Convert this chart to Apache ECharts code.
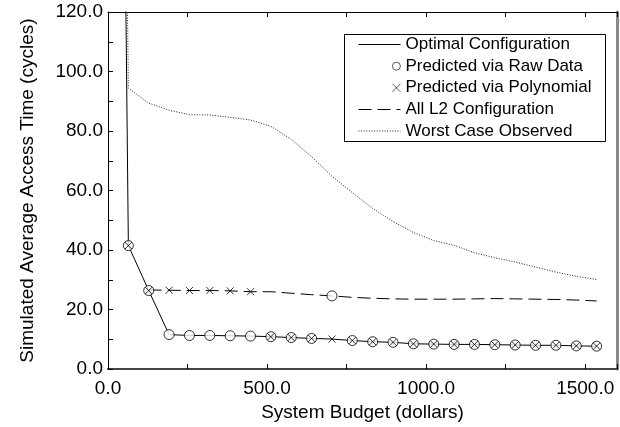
<!DOCTYPE html>
<html>
<head>
<meta charset="utf-8">
<script src="https://cdn.jsdelivr.net/npm/echarts@6/dist/echarts.min.js"></script>
<style>
html,body{margin:0;padding:0;background:#fff;}
#chart{width:620px;height:427px;}
</style>
</head>
<body>
<div id="chart"></div>
<script>
// System budget (dollars)
const budgets = [0, 64, 128, 192, 256, 320, 384, 448, 512, 576, 640, 704, 768, 832, 896, 960, 1024, 1088, 1152, 1216, 1280, 1344, 1408, 1472, 1536];
// Simulated average access time (cycles)
const optimal = [700, 41.5, 26.4, 11.6, 11.3, 11.3, 11.2, 11.1, 10.9, 10.6, 10.3, 10.1, 9.6, 9.2, 9.0, 8.5, 8.4, 8.3, 8.3, 8.2, 8.1, 8.0, 8.0, 7.8, 7.7];
const rawPredicted = [null, 41.5, 26.4, 11.6, 11.3, 11.3, 11.2, 11.1, 10.9, 10.6, 10.3, 24.6, 9.6, 9.2, 9.0, 8.5, 8.4, 8.3, 8.3, 8.2, 8.1, 8.0, 8.0, 7.8, 7.7];
const polyPredicted = [null, 41.5, 26.4, 26.5, 26.4, 26.4, 26.3, 26.0, 10.9, 10.6, 10.3, 10.1, 9.6, 9.2, 9.0, 8.5, 8.4, 8.3, 8.3, 8.2, 8.1, 8.0, 8.0, 7.8, 7.7];
const allL2 = [null, null, 26.6, 26.5, 26.4, 26.4, 26.3, 26.0, 26.0, 25.5, 25.0, 24.6, 24.1, 23.8, 23.6, 23.5, 23.5, 23.5, 23.6, 23.7, 23.6, 23.5, 23.4, 23.2, 22.9];
const worstCase = [700, 94.4, 89.4, 87.0, 85.5, 85.4, 84.6, 83.7, 81.6, 77.2, 71.4, 64.8, 59.3, 54.0, 49.6, 45.9, 43.2, 41.6, 39.1, 37.4, 36.0, 34.3, 32.6, 31.2, 30.1];

const seriesNames = ['Optimal Configuration', 'Predicted via Raw Data', 'Predicted via Polynomial', 'All L2 Configuration', 'Worst Case Observed'];
const xTitle = 'System Budget (dollars)';
const yTitle = 'Simulated Average Access Time (cycles)';

function pairs(vals) {
  const out = [];
  vals.forEach((v, i) => { if (v !== null) out.push([budgets[i], v]); });
  return out;
}

const FONT = "'Liberation Sans', Arial, Helvetica, sans-serif";
const chart = echarts.init(document.getElementById('chart'), null, {renderer: 'canvas'});

const legendRows = [45, 66.7, 88.3, 110, 131.5];
const legendTextLeft = 405;
const legendDefs = seriesNames.map((name, i) => {
  const marker = (i === 1 || i === 2);
  const w = marker ? 8 : 42;
  const def = {
    data: [name],
    orient: 'vertical',
    left: legendTextLeft - 5 - w,
    top: legendRows[i] - 9,
    itemWidth: w,
    itemHeight: 14,
    itemGap: 0,
    padding: 0,
    selectedMode: false,
    textStyle: {fontSize: 17, fontFamily: FONT, color: '#000'},
    lineStyle: {width: 1},
    z: 20
  };
  def.itemStyle = marker ? {borderWidth: 0.8, borderColor: '#000'} : {opacity: 0};
  return def;
});

const option = {
  animation: false,
  backgroundColor: '#fff',
  textStyle: {fontFamily: FONT},
  grid: {left: 108, right: 3, top: 12, bottom: 51, containLabel: false},
  legend: legendDefs,
  graphic: [{
    type: 'rect',
    shape: {x: 344.5, y: 34.5, width: 261, height: 107},
    style: {fill: '#fff', stroke: '#000', lineWidth: 1},
    z: 10
  }],
  xAxis: [{
    type: 'value', min: 0, max: 1600, interval: 250,
    name: xTitle, nameLocation: 'middle', nameGap: 30,
    nameTextStyle: {fontSize: 19, fontFamily: FONT, color: '#000'},
    axisLine: {show: true, lineStyle: {color: '#444', width: 2}},
    axisTick: {show: true, inside: true, length: 5, lineStyle: {color: '#000'}},
    axisLabel: {
      fontSize: 19, fontFamily: FONT, color: '#000', margin: 10,
      formatter: v => (v % 500 === 0 && v <= 1500) ? v.toFixed(1) : ''
    },
    splitLine: {show: false}
  }, {
    type: 'value', min: 0, max: 1600, interval: 250, position: 'top',
    axisLine: {show: true, onZero: false, lineStyle: {color: '#000', width: 1}},
    axisTick: {show: true, inside: true, length: 5, lineStyle: {color: '#000'}},
    axisLabel: {show: false},
    splitLine: {show: false}
  }],
  yAxis: [{
    type: 'value', min: 0, max: 120, interval: 10,
    name: yTitle, nameLocation: 'middle', nameGap: 71, nameRotate: 90,
    nameTextStyle: {fontSize: 19, fontFamily: FONT, color: '#000'},
    axisLine: {show: true, lineStyle: {color: '#000', width: 1}},
    axisTick: {show: true, inside: true, length: 5, lineStyle: {color: '#000'}},
    axisLabel: {
      fontSize: 19, fontFamily: FONT, color: '#000', margin: 5,
      formatter: v => (v % 20 === 0) ? v.toFixed(1) : ''
    },
    splitLine: {show: false}
  }, {
    type: 'value', min: 0, max: 120, interval: 10, position: 'right',
    axisLine: {show: true, onZero: false, lineStyle: {color: '#8a8a8a', width: 3}},
    axisTick: {show: false},
    axisLabel: {show: false},
    splitLine: {show: false}
  }],
  series: [{
    name: seriesNames[0], type: 'line', data: pairs(optimal),
    symbol: 'none', clip: true,
    lineStyle: {color: '#000', width: 1}, itemStyle: {color: '#000'}, z: 3
  }, {
    name: seriesNames[1], type: 'scatter', data: pairs(rawPredicted),
    symbol: 'circle', symbolSize: 10,
    itemStyle: {color: '#fff', borderColor: '#000', borderWidth: 1}, z: 5
  }, {
    name: seriesNames[2], type: 'scatter', data: pairs(polyPredicted),
    symbol: 'path://M0,0L10,10M10,0L0,10', symbolSize: 7,
    itemStyle: {color: 'transparent', borderColor: '#000', borderWidth: 1}, z: 6
  }, {
    name: seriesNames[3], type: 'line', data: pairs(allL2),
    symbol: 'none', clip: true,
    lineStyle: {color: '#000', width: 1, type: [13, 6]}, itemStyle: {color: '#000'}, z: 3
  }, {
    name: seriesNames[4], type: 'line', data: pairs(worstCase),
    symbol: 'none', clip: true,
    lineStyle: {color: '#222', width: 1, type: [1, 1.6]}, itemStyle: {color: '#222'}, z: 3
  }]
};
chart.setOption(option);
</script>
</body>
</html>
